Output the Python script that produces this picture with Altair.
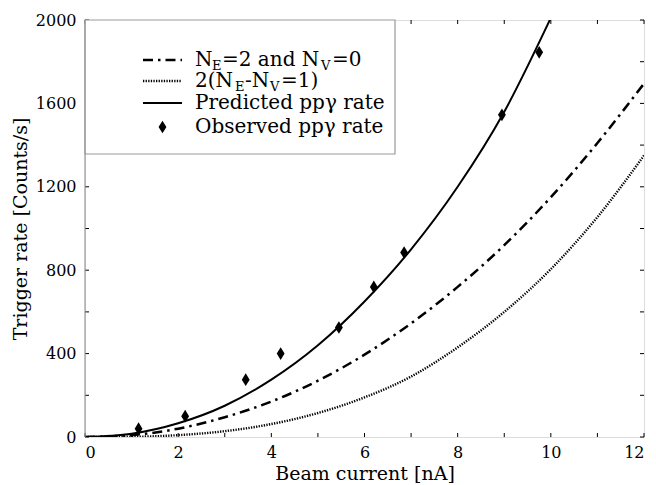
import altair as alt
import pandas as pd

# ---- data ----
curve_x = [0, 1, 2, 3, 4, 5, 6, 7, 8, 9, 10, 11, 12]
predicted = [0, 16, 66, 150, 275, 440, 650, 900, 1200, 1560, 2010, 2500, 3000]
ne2_nv0 = [0, 9, 40, 95, 170, 270, 395, 545, 720, 920, 1150, 1410, 1695]
ne_nv1 = [0, 1, 9, 28, 62, 115, 190, 290, 430, 600, 805, 1055, 1350]

obs_x = [1.15, 2.15, 3.45, 4.2, 5.45, 6.2, 6.85, 8.95, 9.75]
obs_y = [40, 100, 275, 400, 525, 720, 885, 1545, 1845]

x_ticks = [0, 2, 4, 6, 8, 10, 12]
x_minor = [0, 1, 2, 3, 4, 5, 6, 7, 8, 9, 10, 11, 12]
y_ticks = [0, 400, 800, 1200, 1600, 2000]
y_minor = [0, 200, 400, 600, 800, 1000, 1200, 1400, 1600, 1800, 2000]

FONT = "DejaVu Serif"
W, H = 559, 417

curves = pd.DataFrame({"x": curve_x, "pred": predicted, "a": ne2_nv0, "b": ne_nv1})
obs = pd.DataFrame({"x": obs_x, "y": obs_y})
xt = pd.DataFrame({"v": x_minor})
yt = pd.DataFrame({"v": y_minor})
one = pd.DataFrame({"k": [0]})

xs = alt.Scale(domain=[0, 12], nice=False, zero=False)
ys = alt.Scale(domain=[0, 2000], nice=False, zero=False)

xaxis = alt.Axis(values=x_ticks, grid=False, ticks=False, tickSize=0, domain=False, format="d",
                 labelFont=FONT, labelFontSize=16, labelColor="black", labelPadding=7,
                 title="Beam current [nA]", titleFont=FONT, titleFontSize=19,
                 titleFontWeight="normal", titleColor="#000000", titlePadding=4)
yaxis = alt.Axis(values=y_ticks, grid=False, ticks=False, tickSize=0, domain=False, format="d",
                 labelFont=FONT, labelFontSize=16, labelColor="black", labelPadding=9,
                 title="Trigger rate [Counts/s]", titleFont=FONT, titleFontSize=19,
                 titleFontWeight="normal", titleColor="#000000", titlePadding=5)

base = alt.Chart(curves)
pred_line = base.mark_line(color="black", strokeWidth=2, clip=True, interpolate="monotone").encode(
    x=alt.X("x:Q", scale=xs, axis=xaxis), y=alt.Y("pred:Q", scale=ys, axis=yaxis))
a_line = base.mark_line(color="black", strokeWidth=2.5, strokeDash=[10, 5, 2.5, 5], clip=True,
                        interpolate="monotone").encode(x=alt.X("x:Q", scale=xs), y=alt.Y("a:Q", scale=ys))
b_line = base.mark_line(color="black", strokeWidth=2.4, strokeDash=[1.3, 1.3], clip=True,
                        interpolate="monotone").encode(x=alt.X("x:Q", scale=xs), y=alt.Y("b:Q", scale=ys))

DIAMOND = "M0,-1L0.62,0L0,1L-0.62,0Z"
pts = alt.Chart(obs).mark_point(shape=DIAMOND, filled=True, color="black", opacity=1, size=160).encode(
    x=alt.X("x:Q", scale=xs), y=alt.Y("y:Q", scale=ys))

# inward ticks on all four sides
tb = alt.Chart(xt).mark_rule(color="black", strokeWidth=1).encode(
    x=alt.X("v:Q", scale=xs), y=alt.value(H), y2=alt.value(H - 4))
tt = alt.Chart(xt).mark_rule(color="black", strokeWidth=1).encode(
    x=alt.X("v:Q", scale=xs), y=alt.value(0), y2=alt.value(4))
tl = alt.Chart(yt).mark_rule(color="black", strokeWidth=1).encode(
    y=alt.Y("v:Q", scale=ys), x=alt.value(0), x2=alt.value(4))
tr = alt.Chart(yt).mark_rule(color="black", strokeWidth=1).encode(
    y=alt.Y("v:Q", scale=ys), x=alt.value(W), x2=alt.value(W - 4))

# legend box
LB = alt.Chart(one)
box = LB.mark_rect(fill="white", stroke="#999999", strokeWidth=1.2).encode(
    x=alt.value(0), x2=alt.value(310), y=alt.value(0), y2=alt.value(134))

rows = [40, 61, 83, 107]
sx0, sx1 = 58, 97
lg_a = LB.mark_rule(color="black", strokeWidth=2.5, strokeDash=[10, 5, 2.5, 5]).encode(
    x=alt.value(sx0), x2=alt.value(sx1), y=alt.value(rows[0]))
lg_b = LB.mark_rule(color="black", strokeWidth=2.4, strokeDash=[1.3, 1.3]).encode(
    x=alt.value(sx0), x2=alt.value(sx1), y=alt.value(rows[1]))
lg_c = LB.mark_rule(color="black", strokeWidth=2).encode(
    x=alt.value(sx0), x2=alt.value(sx1), y=alt.value(rows[2]))
lg_d = LB.mark_point(shape=DIAMOND, filled=True, color="black", opacity=1, size=160).encode(
    x=alt.value((sx0 + sx1) / 2), y=alt.value(rows[3]))

LS = 20   # legend font size
SS = 13   # subscript size

def txt(s, x, y, size=LS, dy=0):
    return LB.mark_text(text=s, font=FONT, fontSize=size, align="left", baseline="middle",
                        color="black", dy=dy).encode(x=alt.value(x), y=alt.value(y))

TX = 110
legend_text = [
    txt("N", TX, rows[0]), txt("E", TX + 17, rows[0], SS, 6),
    txt("=2 and N", TX + 27, rows[0]), txt("V", TX + 126, rows[0], SS, 6),
    txt("=0", TX + 137, rows[0]),
    txt("2(N", TX, rows[1]), txt("E", TX + 40, rows[1], SS, 6),
    txt("-N", TX + 50, rows[1]), txt("V", TX + 75, rows[1], SS, 6),
    txt("=1)", TX + 86, rows[1]),
    txt("Predicted ppγ rate", TX, rows[2]),
    txt("Observed ppγ rate", TX, rows[3]),
]

left_edge = LB.mark_rule(color="#999999", strokeWidth=1.2).encode(
    x=alt.value(0), y=alt.value(0), y2=alt.value(H))

chart = alt.layer(
    b_line, a_line, pred_line, pts, tb, tt, tl, tr, box, lg_a, lg_b, lg_c, lg_d,
    *legend_text, left_edge
).properties(
    width=W, height=H,
    autosize=alt.AutoSizeParams(type="none"),
    padding={"left": 77, "top": 12, "right": 4, "bottom": 48},
).configure_view(stroke="black", strokeWidth=1.2).configure(background="white")

chart.save("out.html", embed_options={"renderer": "svg", "actions": False})
